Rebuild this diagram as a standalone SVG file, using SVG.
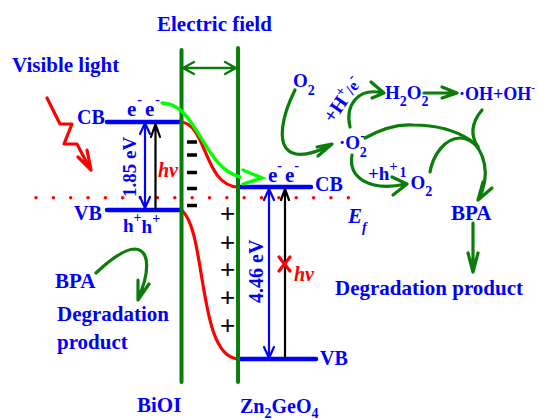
<svg xmlns="http://www.w3.org/2000/svg" width="537" height="420" viewBox="0 0 537 420">
<style>
text{font-family:"Liberation Serif","Times New Roman",serif;font-weight:bold;fill:#0000ff;font-size:19px}
.l{font-size:21px}
.m{font-size:20px}
.s{font-size:14px}
.i{font-style:italic}
.r{fill:#ff0000;font-size:20px}
.p{font-family:"Liberation Sans",Arial,sans-serif;font-weight:normal;font-size:26px;fill:#000;text-anchor:middle}
.g{fill:none;stroke:#0a7d0a;stroke-width:3.2;stroke-linecap:round;stroke-linejoin:round}
.w{fill:none;stroke:#0a7d0a;stroke-width:4;stroke-linecap:round}
.b{fill:none;stroke:#0000ff;stroke-width:4.5;stroke-linecap:round}
.bt{fill:none;stroke:#0000ff;stroke-width:2.2;stroke-linecap:round;stroke-linejoin:round}
.k{fill:none;stroke:#000;stroke-width:2.2;stroke-linecap:round;stroke-linejoin:round}
.rc{fill:none;stroke:#ff0000;stroke-width:3.2;stroke-linecap:round;stroke-linejoin:round}
.d{stroke:#000;stroke-width:3.5}
.lime{fill:none;stroke:#00ff00;stroke-width:3.4;stroke-linecap:round}
</style>
<g id="fermi-level"><path d="M36 197.700H356" fill="none" stroke="#ff0000" stroke-width="3.500" stroke-linecap="round" stroke-dasharray="0 17.350"/><text x="348" y="223" class="i l">E<tspan class="s" dy="9">f</tspan></text></g>
<g id="bioi">
<path class="rc" d="M181 122C207 124 204 186 238 187"/>
<path class="rc" d="M181 210C207 228 197 357 238 359"/>
<path class="b" d="M107 122H181M107 210H181"/>
<text x="77" y="124" class="m">CB</text><text x="74" y="220" class="m">VB</text>
<text x="127" y="116" class="l">e<tspan class="s" dy="-12" dx="1">-</tspan><tspan dy="12" dx="3">e</tspan><tspan class="s" dy="-12" dx="1">-</tspan></text>
<text x="123" y="232">h<tspan class="s" dy="-10">+</tspan><tspan dy="11">h</tspan><tspan class="s" dy="-10">+</tspan></text>
<text transform="translate(136 197) rotate(-90)">1.85 eV</text>
<text x="158" y="177" class="r i">hν</text>
<text x="137" y="412" class="l">BiOI</text>
<path class="d" d="M187 142h10M187 155h10M187 172.500h10M187 188.500h10M187 205.500h10"/>
</g>
<g id="zn2geo4">
<path class="b" d="M238 187H311M238 359H316"/>
<text x="315" y="191" class="m">CB</text><text x="320" y="365" class="m">VB</text>
<text x="268" y="182" class="l">e<tspan class="s" dy="-12" dx="0">-</tspan><tspan dy="12" dx="3">e</tspan><tspan class="s" dy="-12">-</tspan></text>
<text transform="translate(263 303) rotate(-90)" class="m">4.46 eV</text>
<text x="294" y="281" class="r i">hν</text>
<text x="240" y="413" class="m">Zn<tspan class="s" dy="5">2</tspan><tspan dy="-5">GeO</tspan><tspan class="s" dy="5">4</tspan></text>
<text class="p" x="227.500" y="222">+</text><text class="p" x="227.500" y="250.500">+</text><text class="p" x="227.500" y="278">+</text><text class="p" x="227.500" y="305.500">+</text><text class="p" x="227.500" y="334">+</text>
</g>
<g id="labels-left">
<text x="157" y="31" class="l">Electric field</text>
<text x="12" y="72" class="l">Visible light</text>
<text x="55" y="288" class="l">BPA</text>
<text x="57" y="321" class="l">Degradation</text>
<text x="57" y="349" class="l">product</text>
</g>
<g id="labels-right">
<text x="293" y="87">O<tspan class="s" dy="8">2</tspan></text>
<text transform="translate(333 124) rotate(-55)" class="m">+H<tspan class="s" dy="-8">+</tspan><tspan dy="8" style="font-size:16px">/e</tspan><tspan class="s" dy="-8">-</tspan></text>
<text x="339" y="149">·O<tspan class="s" dy="-9">-</tspan><tspan class="s" dy="17" dx="-5">2</tspan></text>
<text x="385" y="99">H<tspan class="s" dy="7">2</tspan><tspan dy="-7">O</tspan><tspan class="s" dy="7">2</tspan></text>
<text x="459" y="100" style="font-size:18px">·OH+OH<tspan style="font-size:11px" dy="-9">-</tspan></text>
<text x="368" y="180">+h<tspan class="s" dy="-9">+</tspan><tspan class="s" dy="6" dx="2">1</tspan><tspan dy="12" dx="4">O</tspan><tspan class="s" dy="7">2</tspan></text>
<text x="451" y="220" class="l">BPA</text>
<text x="335" y="295" class="l">Degradation product</text>
</g>
<g id="connectors">
<path class="w" d="M181.500 50V382M238 48V382"/>
<path class="g" d="M183 68H236M194 62L183 68L194 74M225 62L236 68L225 74" style="stroke-width:2.400"/>
<path class="rc" d="M47 98L60 124H72L64 144H77L90 169M78 157L91 170L87 150"/>
<path class="lime" d="M162 103C197 103 203 168 240 177"/>
<path class="lime" d="M243 170L262 178L243 184"/>
<path class="bt" d="M145 124V208M140 134L145 123L150 134M140 197L145 208L150 197"/>
<path class="k" d="M155.500 209V124M151 137L155.500 124L160 137"/>
<path class="bt" d="M269 189V358M264 200L269 189L274 200M264 347L269 358L274 347"/>
<path class="k" d="M285 358V189M281 200L285 189L289 200"/>
<path class="rc" d="M279 257L290 271M290 257L279 271"/>
<path class="g" d="M96 273C115 255 127 249 135 249C150 250 150 272 138 299M138 280L138 300L149 284"/>
<path class="g" d="M295 90C280 120 280 140 286 148C295 160 315 153 331 145M317 147L332 144L318 156"/>
<path class="g" d="M350 127C345 105 358 87 383 93M371 82L384 93L372 98"/>
<path class="g" d="M424 93H456M442 87L457 93L442 98"/>
<path class="g" d="M365 138C385 127 400 124 413 125C440 125 458 132 470 140C484 150 492 175 478 200M483 182L478 200L492 188"/>
<path class="g" d="M430 172C433 155 445 138 460 138C467 138 473 142 478 147"/>
<path class="g" d="M482 110C472 122 470 135 478 147"/>
<path class="g" d="M352 155C348 178 370 192 406 184M392 177L407 184L393 195"/>
<path class="g" d="M473 223V271M468 253L473 272L478 253"/>
</g>
</svg>
